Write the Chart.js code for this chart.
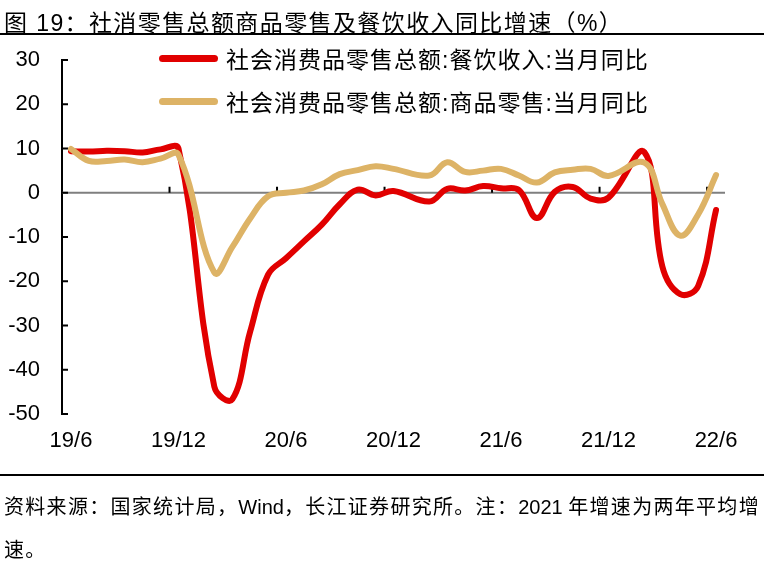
<!DOCTYPE html>
<html>
<head>
<meta charset="utf-8">
<script src="https://cdn.jsdelivr.net/npm/chart.js@4.4.1/dist/chart.umd.min.js"></script>
<style>
    body { margin: 0; background: #fff; }
    #page { position: relative; width: 764px; height: 570px; overflow: hidden; font-family: "Liberation Sans", "Noto Sans CJK SC", sans-serif; color: #000; }
    #chart { position: absolute; left: 0; top: 0; }
    .title { position: absolute; left: 4px; top: 4px; font-size: 23px; letter-spacing: 1.4px; white-space: nowrap; }
    .rule { position: absolute; left: 0; width: 764px; height: 0; border-top: 2px solid #000; }
    .legend-row { position: absolute; left: 159px; height: 30px; display: flex; align-items: center; font-size: 23px; letter-spacing: 1px; white-space: nowrap; }
    .swatch { width: 59px; height: 7px; border-radius: 4px; margin-right: 8px; }
    .note { position: absolute; left: 4px; top: 486px; font-size: 20px; line-height: 43px; letter-spacing: 1.3px; white-space: nowrap; }
    .note .lat { letter-spacing: 0; }
</style>
</head>
<body>
<div id="page">
    <canvas id="chart" width="764" height="570"></canvas>
    <div class="title">图 19：社消零售总额商品零售及餐饮收入同比增速（%）</div>
    <div class="rule" style="top: 33px;"></div>
    <div class="legend-row" style="top: 43px;"><span class="swatch" style="background:#E10000"></span>社会消费品零售总额:餐饮收入:当月同比</div>
    <div class="legend-row" style="top: 86px;"><span class="swatch" style="background:#DDB366"></span>社会消费品零售总额:商品零售:当月同比</div>
    <div class="rule" style="top: 474px;"></div>
    <div class="note">资料来源：国家统计局，<span class="lat">Wind</span>，长江证券研究所。注：<span class="lat">2021 </span>年增速为两年平均增<br>速。</div>
</div>
<script>
// monthly, 2019/6 - 2022/6 (January not published, left empty)
const months = [
    '19/6', '19/7', '19/8', '19/9', '19/10', '19/11', '19/12',
    '20/1', '20/2', '20/3', '20/4', '20/5', '20/6', '20/7', '20/8', '20/9', '20/10', '20/11', '20/12',
    '21/1', '21/2', '21/3', '21/4', '21/5', '21/6', '21/7', '21/8', '21/9', '21/10', '21/11', '21/12',
    '22/1', '22/2', '22/3', '22/4', '22/5', '22/6'
];
const cateringYoY = [
    9.4, 9.3, 9.5, 9.4, 9.1, 9.8, 10.0,
    null, -43.8, -46.7, -31.4, -18.5, -14.8, -11.0, -7.2, -2.6, 0.7, -0.6, 0.4,
    null, -2.0, 0.9, 0.5, 1.5, 1.0, 0.6, -5.7, 0.2, 1.3, -1.3, -1.1,
    null, 9.2, -16.6, -22.9, -21.1, -3.9
];
const goodsYoY = [
    9.9, 7.2, 7.2, 7.5, 6.9, 7.7, 8.6,
    null, -18.0, -12.3, -5.8, -0.8, 0.0, 0.5, 1.9, 4.2, 5.1, 6.0, 5.4,
    null, 3.9, 6.9, 4.7, 5.0, 5.4, 3.9, 2.3, 4.6, 5.2, 5.4, 3.8,
    null, 6.8, -2.5, -9.7, -4.9, 4.0
];

// zero line, inward y ticks and half-year marks on the zero line
const axisMarks = {
    id: 'axisMarks',
    beforeDatasetsDraw(chart) {
        const { ctx, chartArea, scales: { x, y } } = chart;
        const y0 = y.getPixelForValue(0);
        ctx.save();
        ctx.strokeStyle = '#7F7F7F';
        ctx.lineWidth = 2;
        ctx.beginPath();
        ctx.moveTo(chartArea.left, y0);
        ctx.lineTo(chartArea.right, y0);
        ctx.stroke();

        ctx.strokeStyle = '#000';
        ctx.beginPath();
        for (let i = 6; i < months.length; i += 6) {
            const px = (x.getPixelForValue(i - 1) + x.getPixelForValue(i)) / 2;
            ctx.moveTo(px, y0);
            ctx.lineTo(px, y0 - 6);
        }
        y.ticks.forEach(t => {
            const py = y.getPixelForValue(t.value);
            ctx.moveTo(chartArea.left, py);
            ctx.lineTo(chartArea.left + 6, py);
        });
        ctx.stroke();
        ctx.restore();
    }
};

const ctx = document.getElementById('chart').getContext('2d');
new Chart(ctx, {
    type: 'line',
    data: {
        labels: months,
        datasets: [{
            label: '社会消费品零售总额:餐饮收入:当月同比',
            data: cateringYoY,
            borderColor: '#E10000',
            borderWidth: 6,
            order: 1
        }, {
            label: '社会消费品零售总额:商品零售:当月同比',
            data: goodsYoY,
            borderColor: '#DDB366',
            borderWidth: 6,
            order: 0
        }]
    },
    options: {
        responsive: false,
        animation: false,
        spanGaps: true,
        elements: {
            point: { radius: 0, hoverRadius: 0 },
            line: { tension: 0.4, borderCapStyle: 'round', borderJoinStyle: 'round', fill: false }
        },
        layout: { padding: { top: 60, right: 39, bottom: 0, left: 0 } },
        plugins: {
            legend: { display: false },
            tooltip: { enabled: false }
        },
        scales: {
            x: {
                type: 'category',
                offset: true,
                grid: { display: false, drawTicks: false },
                border: { display: false },
                afterFit: scale => { scale.height = 156; },
                ticks: {
                    autoSkip: false,
                    maxRotation: 0,
                    padding: 14,
                    color: '#000',
                    font: { family: 'Liberation Sans', size: 22 },
                    callback: (value, index) => (index % 6 === 0 ? months[index] : null)
                }
            },
            y: {
                min: -50,
                max: 30,
                grid: { display: false, drawTicks: false },
                border: { display: true, color: '#000', width: 2 },
                afterFit: scale => { scale.width = 62; },
                ticks: {
                    stepSize: 10,
                    padding: 22,
                    color: '#000',
                    font: { family: 'Liberation Sans', size: 22 }
                }
            }
        }
    },
    plugins: [axisMarks]
});
</script>
</body>
</html>
